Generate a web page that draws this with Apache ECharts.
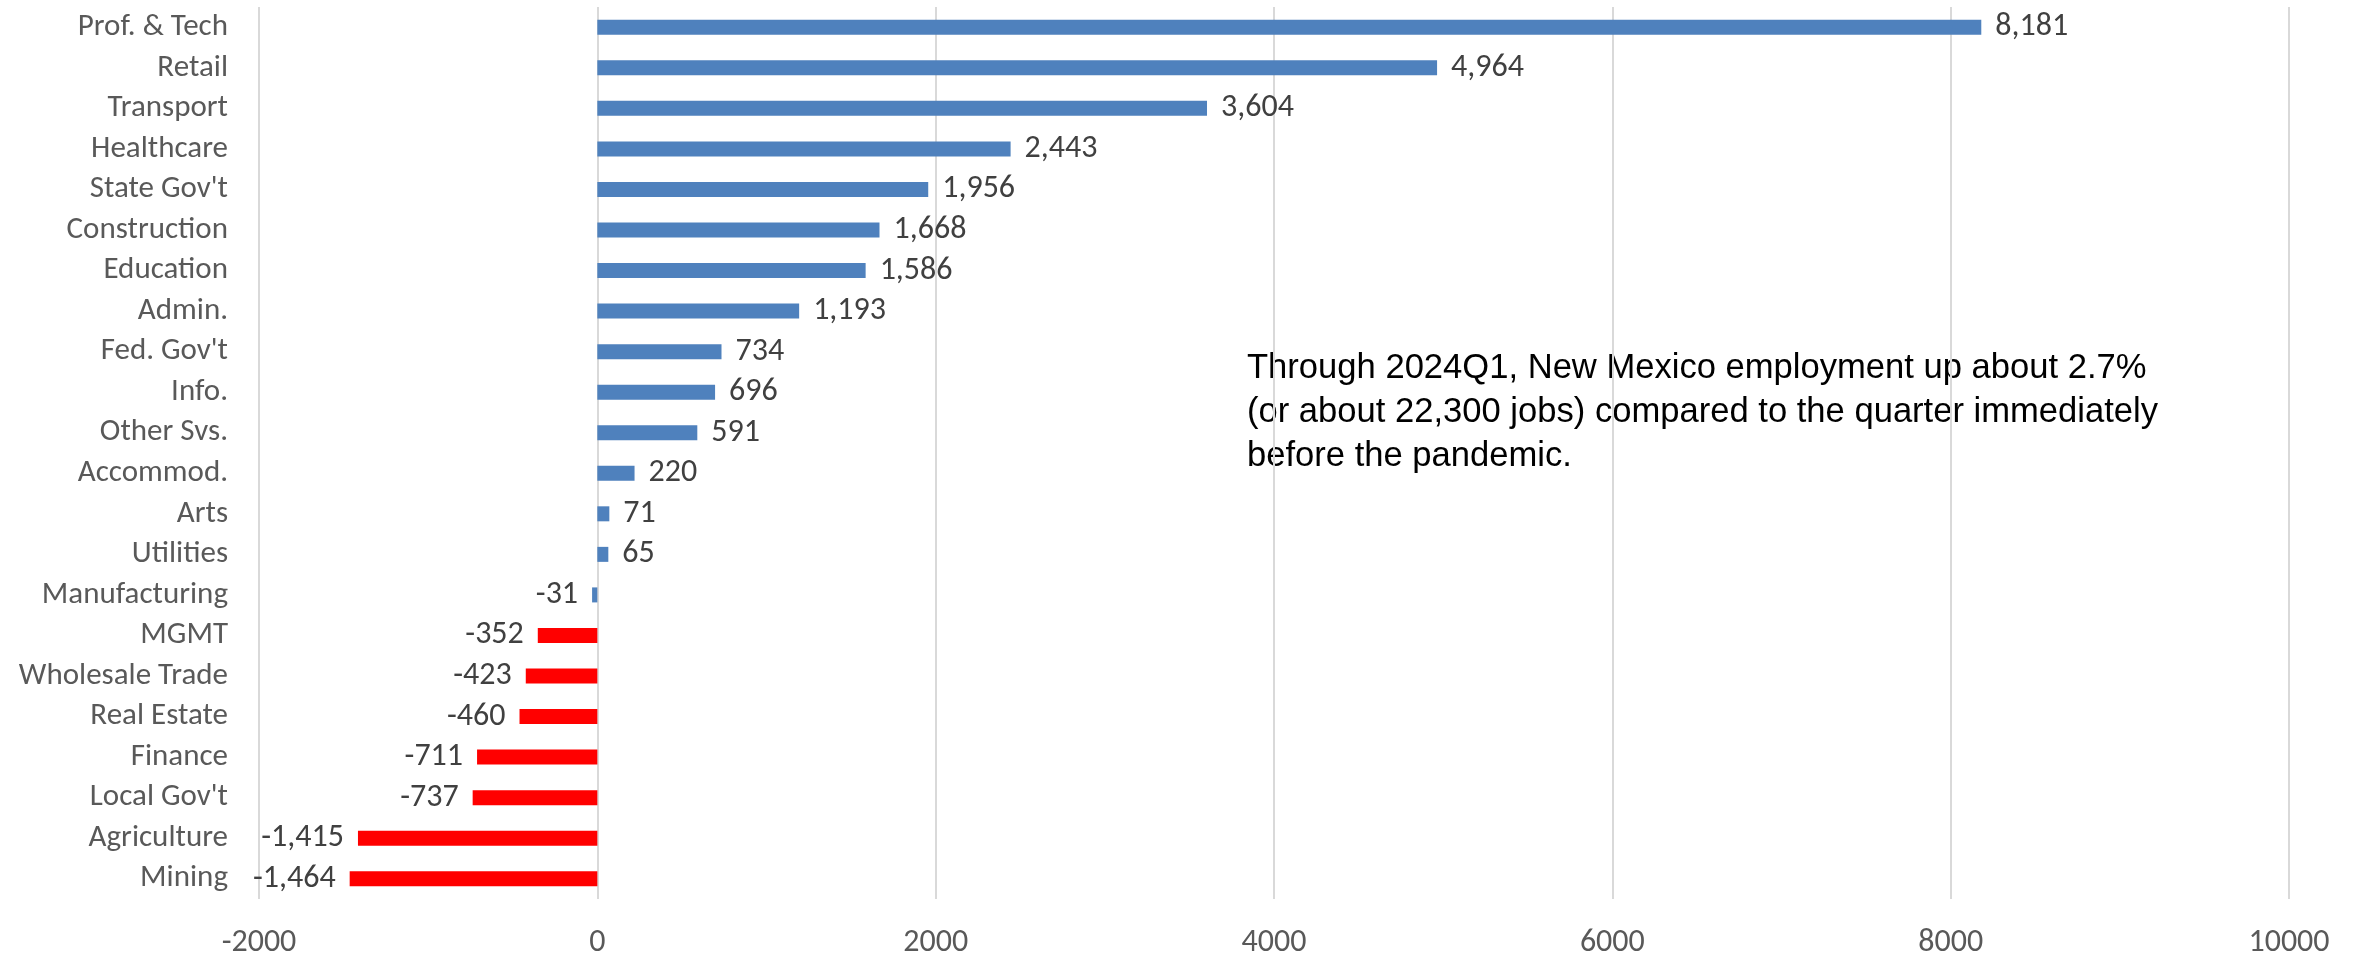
<!DOCTYPE html>
<html>
<head>
<meta charset="utf-8">
<title>New Mexico employment change by industry</title>
<script src="https://cdn.jsdelivr.net/npm/echarts@6/dist/echarts.min.js"></script>
<style>
  html, body { margin: 0; padding: 0; background: #ffffff; }
  #chart { width: 2356px; height: 959px; }
</style>
</head>
<body>
<div id="chart"></div>
<script>
// Industries, top to bottom
const categories = [
  "Prof. & Tech", "Retail", "Transport", "Healthcare", "State Gov't",
  "Construction", "Education", "Admin.", "Fed. Gov't", "Info.",
  "Other Svs.", "Accommod.", "Arts", "Utilities", "Manufacturing",
  "MGMT", "Wholesale Trade", "Real Estate", "Finance", "Local Gov't",
  "Agriculture", "Mining"
];

// Change in jobs versus the quarter before the pandemic
const jobChange = [
  8181, 4964, 3604, 2443, 1956,
  1668, 1586, 1193, 734, 696,
  591, 220, 71, 65, -31,
  -352, -423, -460, -711, -737,
  -1415, -1464
];

// Industries whose bars are highlighted in red
const highlighted = [
  "MGMT", "Wholesale Trade", "Real Estate", "Finance",
  "Local Gov't", "Agriculture", "Mining"
];

// Value axis ticks
const xTicks = { min: -2000, max: 10000, interval: 2000 };

const note = [
  "Through 2024Q1, New Mexico employment up about 2.7%",
  "(or about 22,300 jobs) compared to the quarter immediately",
  "before the pandemic."
];

const BLUE = "#4F81BD";
const RED = "#FF0000";
const LABEL_FONT = "Calibri, Carlito, Lato, 'Noto Sans', sans-serif";

const fmt = v => v.toLocaleString("en-US");

const chart = echarts.init(document.getElementById("chart"), null, { renderer: "canvas" });

const barData = categories.map((name, i) => {
  const v = jobChange[i];
  return {
    value: v,
    itemStyle: { color: highlighted.includes(name) ? RED : BLUE },
    label: { position: v < 0 ? "left" : "right" }
  };
});

chart.setOption({
  animation: false,
  backgroundColor: "#ffffff",
  grid: { left: 259, right: 67, top: 7, bottom: 54, containLabel: false },
  xAxis: {
    type: "value",
    min: xTicks.min,
    max: xTicks.max,
    interval: xTicks.interval,
    axisLine: { show: false },
    axisTick: { show: false },
    axisLabel: {
      margin: 28,
      color: "#595959",
      fontFamily: LABEL_FONT,
      fontSize: 32,
      formatter: v => String(v)
    },
    splitLine: { show: true, lineStyle: { color: "#D9D9D9", width: 2 } }
  },
  yAxis: {
    type: "category",
    data: categories,
    inverse: true,
    axisLine: { show: false },
    axisTick: { show: false },
    axisLabel: {
      margin: 31,
      color: "#595959",
      fontFamily: LABEL_FONT,
      fontSize: 31
    }
  },
  series: [{
    type: "bar",
    data: barData,
    barWidth: 15,
    label: {
      show: true,
      distance: 14,
      color: "#404040",
      fontFamily: LABEL_FONT,
      fontSize: 32,
      formatter: p => fmt(p.value)
    }
  }],
  graphic: [{
    type: "text",
    left: 1247,
    top: 346,
    style: {
      text: note.join("\n"),
      font: "34.6px 'Liberation Sans', Arial, sans-serif",
      lineHeight: 44,
      fill: "#000000"
    }
  }]
});
</script>
</body>
</html>
